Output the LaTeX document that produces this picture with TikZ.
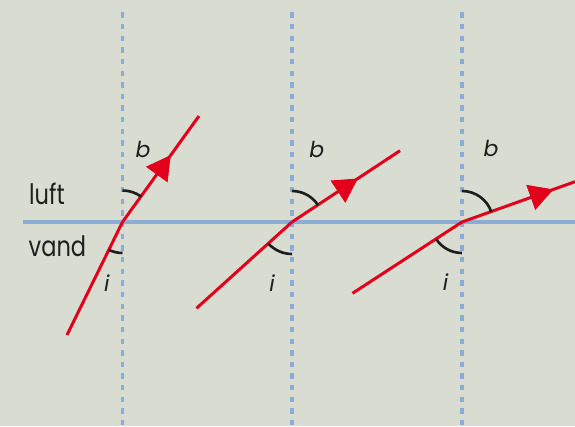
\documentclass[tikz,border=0pt]{standalone}
\usepackage{fontspec}
\setmainfont{Poppins}
\newfontfamily\narrowfont{Poppins}[FakeStretch=0.8]
\usetikzlibrary{calc,decorations.markings,arrows.meta}
\definecolor{bg}{RGB}{216,220,209}
\definecolor{surf}{RGB}{140,172,214}
\definecolor{rayred}{RGB}{226,0,26}
\definecolor{arcblack}{RGB}{30,30,30}
\begin{document}
\begin{tikzpicture}[
  ray/.style={draw=rayred, line width=1.7pt, line join=round},
  tip/.style={postaction={decorate, decoration={markings,
    mark=at position #1 with {\arrow{Triangle[length=0.48cm,width=0.52cm]}}}}},
  normal/.style={draw=surf, line width=1.8pt, dash pattern=on 0.107cm off 0.126cm},
  angmark/.style={draw=arcblack, line width=1.5pt},
  medium/.style={font=\narrowfont\fontsize{16}{18}\selectfont, anchor=base west, text=arcblack},
  lbl/.style={font=\fontsize{12.5}{15}\selectfont\itshape, anchor=base, text=arcblack}]
\fill[bg] (0,0) rectangle (11.5,8.52);
\useasboundingbox (0,0) rectangle (11.5,8.52);
% normals and surface
\draw[normal] (2.45,8.274) -- (2.45,0);
\draw[normal] (5.84,8.274) -- (5.84,0);
\draw[normal] (9.24,8.274) -- (9.24,0);
\draw[draw=surf, line width=1.8pt] (0.45,4.08) -- (11.5,4.08);
\coordinate (O1) at (2.45,4.08);
\coordinate (O2) at (5.84,4.08);
\coordinate (O3) at (9.24,4.08);
% rays
\draw[ray] (1.34,1.82) -- (O1);
\draw[ray, tip=1.65cm, rayred] (O1) -- (3.98,6.2);
\draw[ray] (3.93,2.354) -- (O2);
\draw[ray, tip=1.58cm, rayred] (O2) -- (8.0,5.506);
\draw[ray] (7.05,2.654) -- (O3);
\draw[ray, tip=1.94cm, rayred] (O3) -- (11.5,4.886);
% angles
\draw[angmark] (O1) ++(90:0.63) arc (90:53.9:0.63);
\draw[angmark] (O1) ++(270:0.62) arc (270:244:0.62);
\draw[angmark] (O2) ++(90:0.62) arc (90:32.9:0.62);
\draw[angmark] (O2) ++(270:0.64) arc (270:222.6:0.64);
\draw[angmark] (O3) ++(90:0.62) arc (90:19.2:0.62);
\draw[angmark] (O3) ++(270:0.62) arc (270:213.5:0.62);
% labels
\node[medium] (luft) at (0.46,4.42) {luft};
\node[medium] (vand) at (0.45,3.386) {vand};
\node[lbl] (b1) at (2.86,5.36) {b};
\node[lbl] (b2) at (6.334,5.366) {b};
\node[lbl] (b3) at (9.82,5.386) {b};
\node[lbl] (i1) at (2.134,2.686) {i};
\node[lbl] (i2) at (5.44,2.686) {i};
\node[lbl] (i3) at (8.91,2.706) {i};
\end{tikzpicture}
\end{document}
